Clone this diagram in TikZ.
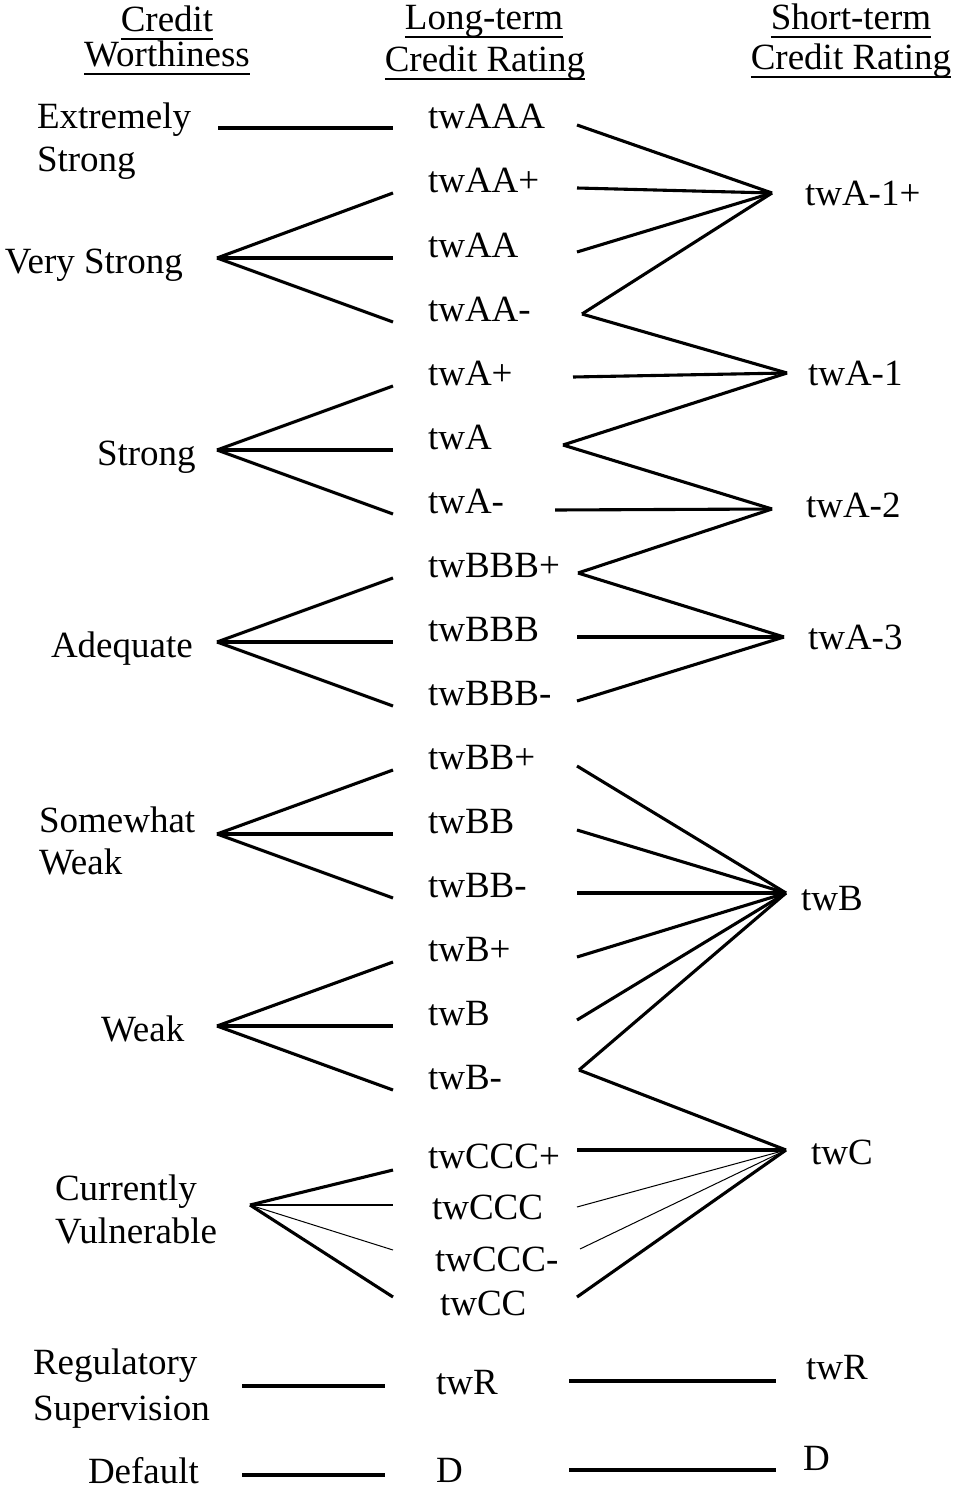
\documentclass[tikz,border=0pt]{standalone}
\usepackage{fontspec}
\setmainfont{Liberation Serif}
\begin{document}
\begin{tikzpicture}[x=1pt,y=-1pt,
  txt/.style={anchor=base west,inner sep=0pt,outer sep=0pt,font=\fontsize{37}{44}\selectfont},
  hdr/.style={anchor=base,inner sep=0pt,outer sep=0pt,font=\fontsize{37}{44}\selectfont},
  link/.style={line width=3.1pt},
  midlink/.style={line width=1.9pt},
  thinlink/.style={line width=1pt},
  uline/.style={line width=2pt}]
\useasboundingbox (0,0) rectangle (953,1490);
\fill[white] (0,0) rectangle (953,1490);

% ---------- headers ----------
\node[hdr] (h1a) at (167,32) {Credit};
\node[hdr] (h1b) at (167,67) {Worthiness};
\node[hdr] (h2a) at (484,30) {Long-term};
\node[hdr] (h2b) at (485,72) {Credit Rating};
\node[hdr] (h3a) at (851,30) {Short-term};
\node[hdr] (h3b) at (851,70) {Credit Rating};
\foreach \h in {h1a,h1b,h2a,h2b,h3a,h3b}
  \draw[uline] ([yshift=-7pt]\h.base west) -- ([yshift=-7pt]\h.base east);

% ---------- left column ----------
\node[txt] (cw1a) at (37,129) {Extremely};
\node[txt] (cw1b) at (37,172) {Strong};
\node[txt] (cw2) at (5,273) {Very Strong};
\node[txt] (cw3) at (97,465) {Strong};
\node[txt] (cw4) at (51,657) {Adequate};
\node[txt] (cw5a) at (39,832) {Somewhat};
\node[txt] (cw5b) at (39,874) {Weak};
\node[txt] (cw6) at (101,1041) {Weak};
\node[txt] (cw7a) at (55,1200) {Currently};
\node[txt] (cw7b) at (55,1243) {Vulnerable};
\node[txt] (cw8a) at (33,1374) {Regulatory};
\node[txt] (cw8b) at (33,1420) {Supervision};
\node[txt] (cw9) at (88,1483) {Default};

% ---------- middle column ----------
\node[txt] (m1) at (428,129) {twAAA};
\node[txt] (m2) at (428,193) {twAA+};
\node[txt] (m3) at (428,257) {twAA};
\node[txt] (m4) at (428,321) {twAA-};
\node[txt] (m5) at (428,385) {twA+};
\node[txt] (m6) at (428,449) {twA};
\node[txt] (m7) at (428,513) {twA-};
\node[txt] (m8) at (428,577) {twBBB+};
\node[txt] (m9) at (428,641) {twBBB};
\node[txt] (m10) at (428,705) {twBBB-};
\node[txt] (m11) at (428,769) {twBB+};
\node[txt] (m12) at (428,833) {twBB};
\node[txt] (m13) at (428,897) {twBB-};
\node[txt] (m14) at (428,961) {twB+};
\node[txt] (m15) at (428,1025) {twB};
\node[txt] (m16) at (428,1089) {twB-};
\node[txt] (m17) at (428,1168) {twCCC+};
\node[txt] (m18) at (432,1219) {twCCC};
\node[txt] (m19) at (435,1271) {twCCC-};
\node[txt] (m20) at (440,1315) {twCC};
\node[txt] (m21) at (436,1394) {twR};
\node[txt] (m22) at (436,1482) {D};

% ---------- right column ----------
\node[txt] (s1) at (805,205) {twA-1+};
\node[txt] (s2) at (808,385) {twA-1};
\node[txt] (s3) at (806,517) {twA-2};
\node[txt] (s4) at (808,649) {twA-3};
\node[txt] (s5) at (801,910) {twB};
\node[txt] (s6) at (811,1164) {twC};
\node[txt] (s7) at (806,1379) {twR};
\node[txt] (s8) at (803,1470) {D};

% ---------- connector end points ----------
% left hubs
\coordinate (hx1) at (218,128);
\coordinate (hx2) at (217,258);
\coordinate (hx3) at (217,450);
\coordinate (hx4) at (217,642);
\coordinate (hx5) at (217,834);
\coordinate (hx6) at (217,1026);
\coordinate (hx7) at (250,1205);
\coordinate (hx8) at (242,1386);
\coordinate (hx9) at (242,1475);
% left ends at middle column
\coordinate (a1) at (393,128);
\coordinate (a2) at (393,193);
\coordinate (a3) at (393,258);
\coordinate (a4) at (393,322);
\coordinate (a5) at (393,386);
\coordinate (a6) at (393,450);
\coordinate (a7) at (393,514);
\coordinate (a8) at (393,578);
\coordinate (a9) at (393,642);
\coordinate (a10) at (393,706);
\coordinate (a11) at (393,770);
\coordinate (a12) at (393,834);
\coordinate (a13) at (393,898);
\coordinate (a14) at (393,962);
\coordinate (a15) at (393,1026);
\coordinate (a16) at (393,1090);
\coordinate (a17) at (393,1170);
\coordinate (a18) at (393,1205);
\coordinate (a19) at (393,1250);
\coordinate (a20) at (393,1297);
\coordinate (a21) at (385,1386);
\coordinate (a22) at (385,1475);
% right-side starts at middle column
\coordinate (b1) at (577,125);
\coordinate (b2) at (577,188);
\coordinate (b3) at (577,252);
\coordinate (b4) at (582,314);
\coordinate (b5) at (573,377);
\coordinate (b6) at (563,445);
\coordinate (b7) at (555,510);
\coordinate (b8) at (578,573);
\coordinate (b9) at (577,637);
\coordinate (b10) at (577,701);
\coordinate (b11) at (577,766);
\coordinate (b12) at (577,830);
\coordinate (b13) at (577,893);
\coordinate (b14) at (577,957);
\coordinate (b15) at (577,1020);
\coordinate (b16) at (579,1070);
\coordinate (b17) at (577,1150);
\coordinate (b18) at (577,1207);
\coordinate (b19) at (580,1249);
\coordinate (b20) at (577,1297);
\coordinate (b21) at (569,1381);
\coordinate (b22) at (569,1470);
% right hubs
\coordinate (r1) at (772,193);
\coordinate (r2) at (787,373);
\coordinate (r3) at (772,509);
\coordinate (r4) at (784,637);
\coordinate (r5) at (786,893);
\coordinate (r6) at (786,1150);
\coordinate (r7) at (776,1381);
\coordinate (r8) at (776,1470);

% ---------- left connectors ----------
\draw[link] (hx1) -- (a1);
\foreach \e in {a2,a3,a4} \draw[link] (hx2) -- (\e);
\foreach \e in {a5,a6,a7} \draw[link] (hx3) -- (\e);
\foreach \e in {a8,a9,a10} \draw[link] (hx4) -- (\e);
\foreach \e in {a11,a12,a13} \draw[link] (hx5) -- (\e);
\foreach \e in {a14,a15,a16} \draw[link] (hx6) -- (\e);
\draw[link] (hx7) -- (a17);
\draw[midlink] (hx7) -- (a18);
\draw[thinlink] (hx7) -- (a19);
\draw[link] (hx7) -- (a20);
\draw[link] (hx8) -- (a21);
\draw[link] (hx9) -- (a22);

% ---------- right connectors ----------
\foreach \s in {b1,b2,b3,b4} \draw[link] (\s) -- (r1);
\foreach \s in {b4,b5,b6} \draw[link] (\s) -- (r2);
\foreach \s in {b6,b7,b8} \draw[link] (\s) -- (r3);
\foreach \s in {b8,b9,b10} \draw[link] (\s) -- (r4);
\foreach \s in {b11,b12,b13,b14,b15,b16} \draw[link] (\s) -- (r5);
\draw[link] (b16) -- (r6);
\draw[link] (b17) -- (r6);
\draw[thinlink] (b18) -- (r6);
\draw[thinlink] (b19) -- (r6);
\draw[link] (b20) -- (r6);
\draw[link] (b21) -- (r7);
\draw[link] (b22) -- (r8);
\end{tikzpicture}
\end{document}
